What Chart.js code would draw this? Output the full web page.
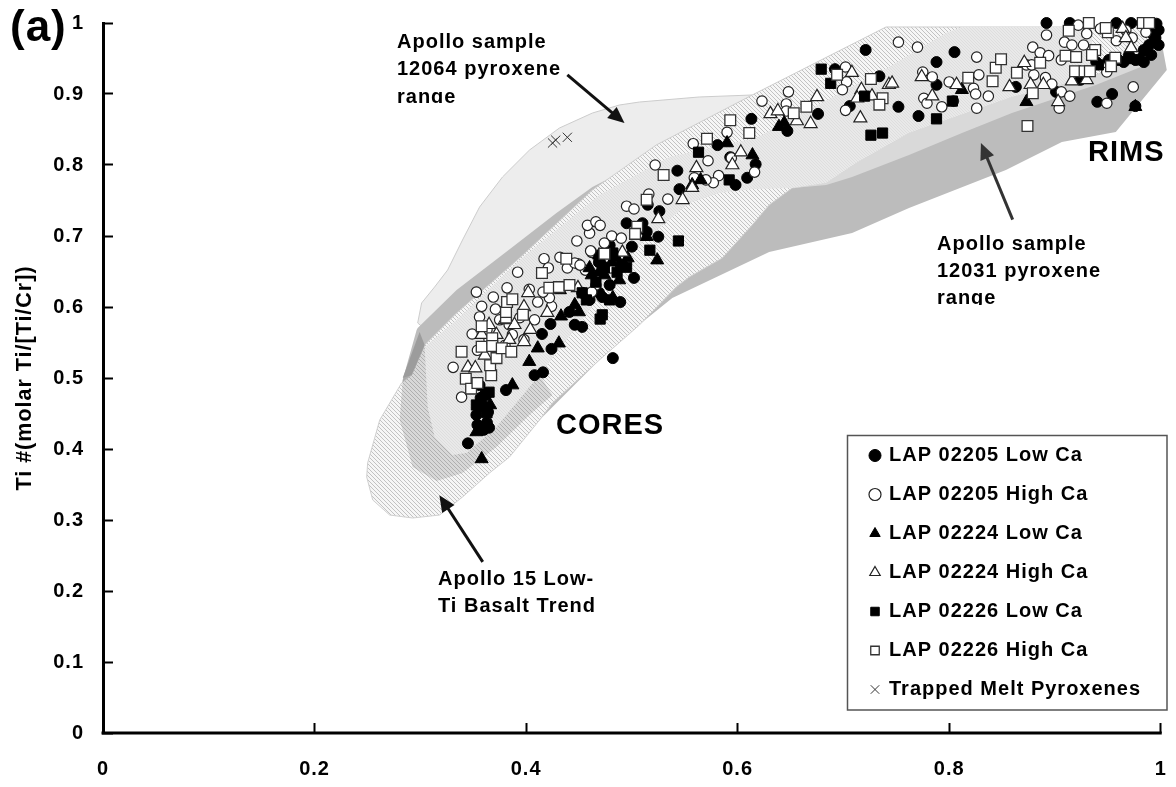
<!DOCTYPE html>
<html><head><meta charset="utf-8">
<style>html,body{margin:0;padding:0;background:#fff}canvas{display:block}</style>
<script src="https://cdn.jsdelivr.net/npm/chart.js@4"></script>
</head><body><canvas id="c" width="1176" height="787"></canvas>
<script>
const seriesNames = ['LAP 02205 Low Ca','LAP 02205 High Ca','LAP 02224 Low Ca','LAP 02224 High Ca','LAP 02226 Low Ca','LAP 02226 High Ca','Trapped Melt Pyroxenes'];
const xTicks = [0,0.2,0.4,0.6,0.8,1];
const yTicks = [0,0.1,0.2,0.3,0.4,0.5,0.6,0.7,0.8,0.9,1];

const lap02205Low = [[.345,.408],[.363,.437],[.353,.448],[.359,.462],[.362,.476],[.356,.490],[.381,.483],[.408,.504],[.416,.508],[.482,.528],[.415,.562],[.423,.576],[.424,.541],[.441,.593],[.453,.572],[.489,.607],[.502,.641],[.479,.631],[.472,.614],[.460,.610],[.526,.735],[.525,.699],[.545,.766],[.543,.792],[.495,.718],[.510,.718],[.514,.706],[.500,.685],[.515,.744],[.581,.828],[.613,.865],[.647,.848],[.676,.872],[.692,.935],[.721,.962],[.706,.883],[.734,.925],[.609,.782],[.598,.772],[.617,.801],[.593,.811],[.805,.959],[.788,.945],[.788,.913],[.771,.869],[.752,.882],[.892,1],[.914,1],[.863,.910],[.901,.903],[.940,.889],[.954,.900],[.976,.883],[.958,1],[.972,1],[.982,1],[.996,.999],[.995,.979],[.998,.969],[.960,.948],[.976,.948],[.984,.962],[.939,.945],[.924,.920],[.482,.676],[.453,.620],[.469,.620],[.446,.575],[.469,.663],[.479,.687],[.989,.990],[.993,.983],[.998,.990],[.989,.969],[.970,.955],[.965,.945],[.951,.948],[.984,.945],[.991,.955],[.357,.472],[.364,.452],[.360,.427],[.365,.430],[.354,.434]];
const lap02205High = [[.331,.515],[.339,.473],[.349,.562],[.358,.601],[.353,.621],[.369,.614],[.382,.627],[.392,.649],[.371,.597],[.356,.586],[.403,.625],[.411,.607],[.424,.601],[.422,.613],[.416,.621],[.387,.561],[.417,.668],[.432,.670],[.449,.661],[.456,.652],[.466,.631],[.462,.621],[.480,.655],[.439,.655],[.421,.655],[.462,.677],[.448,.693],[.461,.679],[.460,.704],[.458,.715],[.466,.720],[.470,.715],[.495,.742],[.502,.738],[.481,.700],[.490,.697],[.474,.690],[.446,.662],[.451,.659],[.522,.800],[.558,.830],[.534,.752],[.516,.759],[.572,.806],[.590,.846],[.594,.810],[.616,.790],[.582,.785],[.577,.775],[.570,.779],[.559,.782],[.623,.890],[.648,.903],[.646,.886],[.646,.876],[.702,.938],[.703,.917],[.699,.906],[.702,.877],[.752,.973],[.770,.966],[.775,.931],[.784,.924],[.826,.952],[.828,.927],[.823,.908],[.825,.900],[.837,.897],[.826,.880],[.776,.894],[.779,.887],[.793,.882],[.800,.917],[.804,.890],[.892,.983],[.909,.973],[.922,.997],[.930,.985],[.879,.966],[.886,.958],[.894,.954],[.880,.927],[.873,.941],[.878,.941],[.891,.923],[.897,.914],[.906,.903],[.914,.897],[.904,.880],[.949,.887],[.974,.910],[.949,.931],[.906,.948],[.927,.969],[.958,.975],[.973,.979],[.967,.990],[.986,.987],[.943,.992],[.916,.969],[.363,.568],[.375,.582],[.384,.575],[.398,.554],[.380,.546],[.354,.539],[.394,.585],[.408,.582],[.365,.554]];
const lap02224Low = [[.353,.424],[.358,.386],[.366,.462],[.359,.476],[.403,.523],[.411,.542],[.431,.549],[.387,.490],[.433,.587],[.450,.593],[.524,.666],[.462,.645],[.474,.645],[.482,.613],[.472,.662],[.493,.659],[.514,.699],[.485,.670],[.469,.673],[.565,.779],[.557,.772],[.590,.831],[.614,.814],[.639,.854],[.644,.859],[.812,.906],[.873,.889],[.984,.959],[.976,.882],[.929,.920],[.972,.948],[.432,.624],[.446,.603],[.488,.638],[.460,.655],[.469,.649],[.481,.663],[.496,.669]];
const lap02224High = [[.345,.515],[.352,.514],[.398,.551],[.404,.568],[.420,.592],[.402,.620],[.365,.575],[.358,.561],[.398,.600],[.380,.582],[.384,.554],[.449,.627],[.491,.677],[.525,.724],[.548,.751],[.557,.768],[.561,.796],[.595,.800],[.603,.818],[.631,.872],[.638,.876],[.656,.862],[.669,.858],[.675,.896],[.708,.930],[.716,.866],[.717,.906],[.713,.894],[.727,.897],[.743,.913],[.746,.915],[.774,.924],[.784,.897],[.807,.913],[.857,.910],[.877,.913],[.889,.913],[.903,.889],[.916,.918],[.930,.920],[.964,.992],[.967,.979],[.972,.965],[.871,.944],[.372,.561],[.389,.575],[.361,.532]];
const lap02226Low = [[.472,.589],[.470,.583],[.453,.620],[.457,.610],[.495,.656],[.517,.680],[.482,.676],[.490,.659],[.365,.480],[.356,.459],[.353,.462],[.363,.451],[.544,.693],[.469,.666],[.563,.818],[.592,.779],[.679,.935],[.688,.915],[.720,.897],[.726,.842],[.737,.845],[.788,.865],[.803,.890],[.956,.948],[.941,.941],[.979,.948],[.474,.655],[.486,.649],[.466,.635],[.479,.610]];
const lap02226High = [[.339,.537],[.343,.499],[.348,.485],[.354,.493],[.367,.504],[.366,.518],[.372,.528],[.358,.544],[.358,.573],[.368,.556],[.368,.545],[.377,.542],[.386,.537],[.381,.585],[.381,.593],[.382,.607],[.387,.611],[.397,.589],[.415,.648],[.438,.668],[.422,.627],[.431,.628],[.441,.631],[.474,.675],[.530,.786],[.514,.751],[.505,.713],[.503,.703],[.571,.837],[.593,.863],[.611,.845],[.653,.873],[.665,.882],[.694,.927],[.726,.921],[.737,.894],[.734,.885],[.818,.923],[.844,.937],[.849,.949],[.841,.918],[.864,.930],[.886,.944],[.879,.901],[.874,.855],[.910,.954],[.920,.952],[.938,.962],[.935,.955],[.919,.932],[.928,.932],[.933,.932],[.957,.951],[.953,.939],[.913,.989],[.932,1],[.950,.987],[.948,.993],[.983,1],[.989,1]];
const trappedMelt = [[.425,.831],[.428,.835],[.439,.839]];

const range12064 = [[.2975,.5775],[.3012,.6056],[.3135,.6282],[.3258,.6521],[.3399,.6944],[.3560,.7408],[.3777,.7831],[.4032,.8211],[.4315,.8521],[.4627,.8732],[.4882,.8845],[.5071,.8887],[.5637,.8958],[.6138,.8986],[.6138,.7662],[.4693,.6099],[.3277,.5394],[.2975,.5775]];
const range12031 = [[.2965,.5676],[.2833,.4972],[.2805,.4408],[.2871,.4056],[.2927,.3746],[.3154,.3549],[.3399,.3662],[.3720,.3803],[.4127,.4408],[.4438,.4873],[.4854,.5493],[.5382,.6127],[.6298,.6775],[.7082,.7042],[.7620,.7394],[.8536,.7930],[.9065,.8324],[.9575,.8465],[1.0057,.9338],[.9981,.9944],[.7403,.9944],[.6138,.8986],[.5231,.8282],[.5071,.8028],[.4627,.7690],[.4287,.7324],[.3872,.6845],[.3343,.6239],[.2975,.5704],[.2965,.5676]];
const trend15 = [[.2823,.4930],[.2616,.4408],[.2502,.3803],[.2493,.3606],[.2550,.3282],[.2710,.3070],[.2927,.3028],[.3182,.3070],[.3399,.3324],[.3654,.3662],[.3843,.3887],[.4127,.4408],[.4249,.4648],[.4693,.5254],[.5071,.5746],[.5420,.6282],[.5543,.6423],[.5855,.6690],[.6138,.7155],[.6298,.7437],[.6516,.7676],[.6837,.7746],[.7120,.8028],[.7620,.8451],[.8593,.8958],[.9348,.9239],[.9858,.9577],[.9981,.9944],[.7403,.9944],[.6138,.8986],[.5231,.8282],[.4627,.7648],[.3938,.6690],[.3343,.5915],[.3041,.5465],[.2918,.5042],[.2823,.4930]];
const upperBand = [[.6516,.7676],[.6837,.7746],[.7120,.8028],[.7620,.8451],[.8593,.8958],[.9348,.9239],[.9858,.9577],[.9981,.9944],[.9858,.9408],[.9386,.9127],[.8593,.8732],[.8121,.8451],[.7620,.8141],[.7082,.7831],[.6837,.7718],[.6516,.7676]];
const innerLobe = [[.3041,.5437],[.3069,.4592],[.3135,.4169],[.3305,.3915],[.3437,.3944],[.3720,.4310],[.4127,.5042],[.4599,.5958],[.5071,.6873],[.5382,.7268],[.5543,.7465],[.5826,.7606],[.6138,.7662],[.6516,.7676],[.6837,.7746],[.7120,.8028],[.7620,.8451],[.8593,.8958],[.9348,.9239],[.9348,.9944],[.8121,.9944],[.7970,.9859],[.7432,.9380],[.6582,.8704],[.6176,.8380],[.5354,.8113],[.4693,.7577],[.3938,.6662],[.3343,.5817],[.3041,.5437]];
const lowerWash = [[.2833,.4972],[.2805,.4408],[.2871,.4056],[.2927,.3746],[.3154,.3549],[.3399,.3662],[.3720,.4028],[.4032,.4479],[.4249,.4761],[.4127,.5042],[.3720,.4310],[.3437,.3944],[.3305,.3915],[.3135,.4169],[.3069,.4592],[.3041,.5437],[.2993,.5606],[.2833,.4972]];
const tipWedge = [[.2833,.5],[.2993,.5648],[.3041,.5465],[.2918,.5042],[.2833,.5]];

const arrow12064 = [[.439,.927],[.493,.859]];
const arrow12031 = [[.860,.723],[.830,.831]];
const arrowTrend = [[.359,.241],[.318,.335]];

const toXY = a => a.map(p => ({x:p[0], y:p[1]}));
function hatch(size, bg, fg){
  const t = document.createElement('canvas'); t.width = t.height = size;
  const g = t.getContext('2d');
  g.fillStyle = bg; g.fillRect(0,0,size,size);
  g.fillStyle = fg;
  for(let i=0;i<size;i++) g.fillRect(i, i, 1, 1);
  return document.getElementById('c').getContext('2d').createPattern(t,'repeat');
}
const sparseHatch = hatch(4,'#f6f6f6','#c2c2c2');
const fineHatch = hatch(3,'#e9e9e9','#dedede');

function series(i,data,style,r,bg,bc,bw,order){
  return {label:seriesNames[i],data:toXY(data),pointStyle:style,pointRadius:r,pointHoverRadius:r,
    backgroundColor:bg,borderColor:bc,borderWidth:bw,showLine:false,clip:false,order};
}
function region(label,data,fillStyle,line,order){
  return {label,data:toXY(data),showLine:true,fill:'shape',backgroundColor:fillStyle,borderColor:line,
    borderWidth:line==='transparent'?0:1,pointRadius:0,pointHoverRadius:0,tension:0,order};
}
const datasets = [
  series(0,lap02205Low,'circle',5.5,'#000','#000',1,7),
  series(1,lap02205High,'circle',5.2,'#fff','#222',1.2,6),
  series(2,lap02224Low,'triangle',7.5,'#000','#000',1,5),
  series(3,lap02224High,'triangle',7.5,'#fff','#222',1.2,4),
  series(4,lap02226Low,'rect',7.2,'#000','#000',1,3),
  series(5,lap02226High,'rect',7.6,'#fff','#333',1.3,2),
  series(6,trappedMelt,'crossRot',6.5,'#333','#333',1,1),
  region('Apollo sample 12064 pyroxene range',range12064,'#ededed','#cccccc',106),
  region('Apollo sample 12031 pyroxene range',range12031,'#bcbcbc','transparent',105),
  region('Apollo 15 Low-Ti Basalt Trend',trend15,sparseHatch,'#cfcfcf',104),
  region('Upper band',upperBand,'#d9d9d9','transparent',103),
  region('Inner lobe',innerLobe,fineHatch,'transparent',102),
  region('Lower wash',lowerWash,'rgba(110,110,110,0.22)','transparent',101),
  region('Tip wedge',tipWedge,'#9c9c9c','transparent',100)
];

const FONT = '"Liberation Sans", Arial, sans-serif';
const spacing = c => { c.ctx.letterSpacing = '1px'; };
function arrow(ctx,chart,seg,color,w,head){
  const X = chart.scales.x, Y = chart.scales.y;
  const x0=X.getPixelForValue(seg[0][0]), y0=Y.getPixelForValue(seg[0][1]);
  const x1=X.getPixelForValue(seg[1][0]), y1=Y.getPixelForValue(seg[1][1]);
  const a=Math.atan2(y1-y0,x1-x0);
  ctx.save(); ctx.strokeStyle=color; ctx.fillStyle=color; ctx.lineWidth=w;
  ctx.beginPath(); ctx.moveTo(x0,y0); ctx.lineTo(x1-Math.cos(a)*head*.8,y1-Math.sin(a)*head*.8); ctx.stroke();
  ctx.beginPath(); ctx.moveTo(x1,y1);
  ctx.lineTo(x1-head*Math.cos(a-.42),y1-head*Math.sin(a-.42));
  ctx.lineTo(x1-head*Math.cos(a+.42),y1-head*Math.sin(a+.42));
  ctx.closePath(); ctx.fill(); ctx.restore();
}
const TXT = [
  ['Apollo sample',397,42,20],['12064 pyroxene',397,69,20],['range',397,97,20,103],
  ['Apollo sample',937,244,20],['12031 pyroxene',937,271,20],['range',937,298,20,305],
  ['Apollo 15 Low-',438,579,20],['Ti Basalt Trend',438,606,20],
  ['CORES',556,426,29],['RIMS',1088,153,29],['(a)',10,29,44]
];
const deco = {
  id:'deco',
  beforeUpdate: spacing,
  beforeDraw: spacing,
  afterLayout(c){
    const l=c.legend; l.left=852; l.right=1167; l.top=426.5; l.bottom=745;
  },
  afterDraw(c){
    const ctx=c.ctx, X=c.scales.x, Y=c.scales.y;
    ctx.save();
    ctx.strokeStyle='#000'; ctx.lineWidth=3;
    ctx.beginPath(); ctx.moveTo(X.getPixelForValue(0)-1.5,Y.bottom); ctx.lineTo(X.getPixelForValue(1)+1,Y.bottom); ctx.stroke();
    ctx.strokeStyle='#555'; ctx.lineWidth=1.5; ctx.strokeRect(847.5,435.5,319.5,274.5);
    arrow(ctx,c,arrow12064,'#111',3,18);
    arrow(ctx,c,arrow12031,'#333',3,18);
    arrow(ctx,c,arrowTrend,'#111',3,18);
    ctx.fillStyle='#000'; ctx.textAlign='left'; ctx.textBaseline='middle';
    for(const t of TXT){
      ctx.save();
      if(t[4]){ ctx.beginPath(); ctx.rect(0,0,1176,t[4]); ctx.clip(); }
      ctx.font='bold '+t[3]+'px '+FONT;
      ctx.fillText(t[0],t[1],t[2]);
      ctx.restore();
    }
    ctx.restore();
  }
};
const fmt = v => String(Math.round(v*10)/10);
const noPad = s => { s.paddingLeft=0; s.paddingRight=0; s.paddingTop=0; s.paddingBottom=0; };
new Chart(document.getElementById('c'),{
  type:'scatter',
  data:{datasets},
  plugins:[deco],
  options:{
    responsive:false,animation:false,devicePixelRatio:1,
    layout:{padding:{left:0,top:23,right:7.65,bottom:0}},
    plugins:{
      tooltip:{enabled:false},
      legend:{
        position:'chartArea',align:'start',
        labels:{usePointStyle:true,boxHeight:8.5,boxWidth:8,padding:19,color:'#000',
          font:{family:FONT,weight:'bold',size:20},
          sort:(a,b)=>a.datasetIndex-b.datasetIndex,
          filter:i=>i.datasetIndex<7}
      }
    },
    scales:{
      x:{type:'linear',min:0,max:1.006,
        afterBuildTicks:s=>{s.ticks=xTicks.map(v=>({value:v}));},
        afterFit:s=>{s.height=54;noPad(s);},
        border:{display:false},
        grid:{drawOnChartArea:false,drawTicks:true,tickLength:-10,tickWidth:2,tickColor:'#000'},
        ticks:{callback:fmt,autoSkip:false,maxRotation:0,padding:34,color:'#000',font:{family:FONT,weight:'bold',size:20}}
      },
      y:{type:'linear',min:0,max:1,
        afterBuildTicks:s=>{s.ticks=yTicks.map(v=>({value:v}));},
        afterFit:s=>{s.width=103;noPad(s);},
        border:{display:true,color:'#000',width:3},
        grid:{drawOnChartArea:false,drawTicks:true,tickLength:-10,tickWidth:2,tickColor:'#000'},
        ticks:{callback:fmt,autoSkip:false,padding:29,color:'#000',font:{family:FONT,weight:'bold',size:20}},
        title:{display:true,text:'Ti #(molar Ti/[Ti/Cr])',color:'#000',padding:{top:12,bottom:0},font:{family:FONT,weight:'bold',size:21.5}}
      }
    }
  }
});
</script></body></html>
